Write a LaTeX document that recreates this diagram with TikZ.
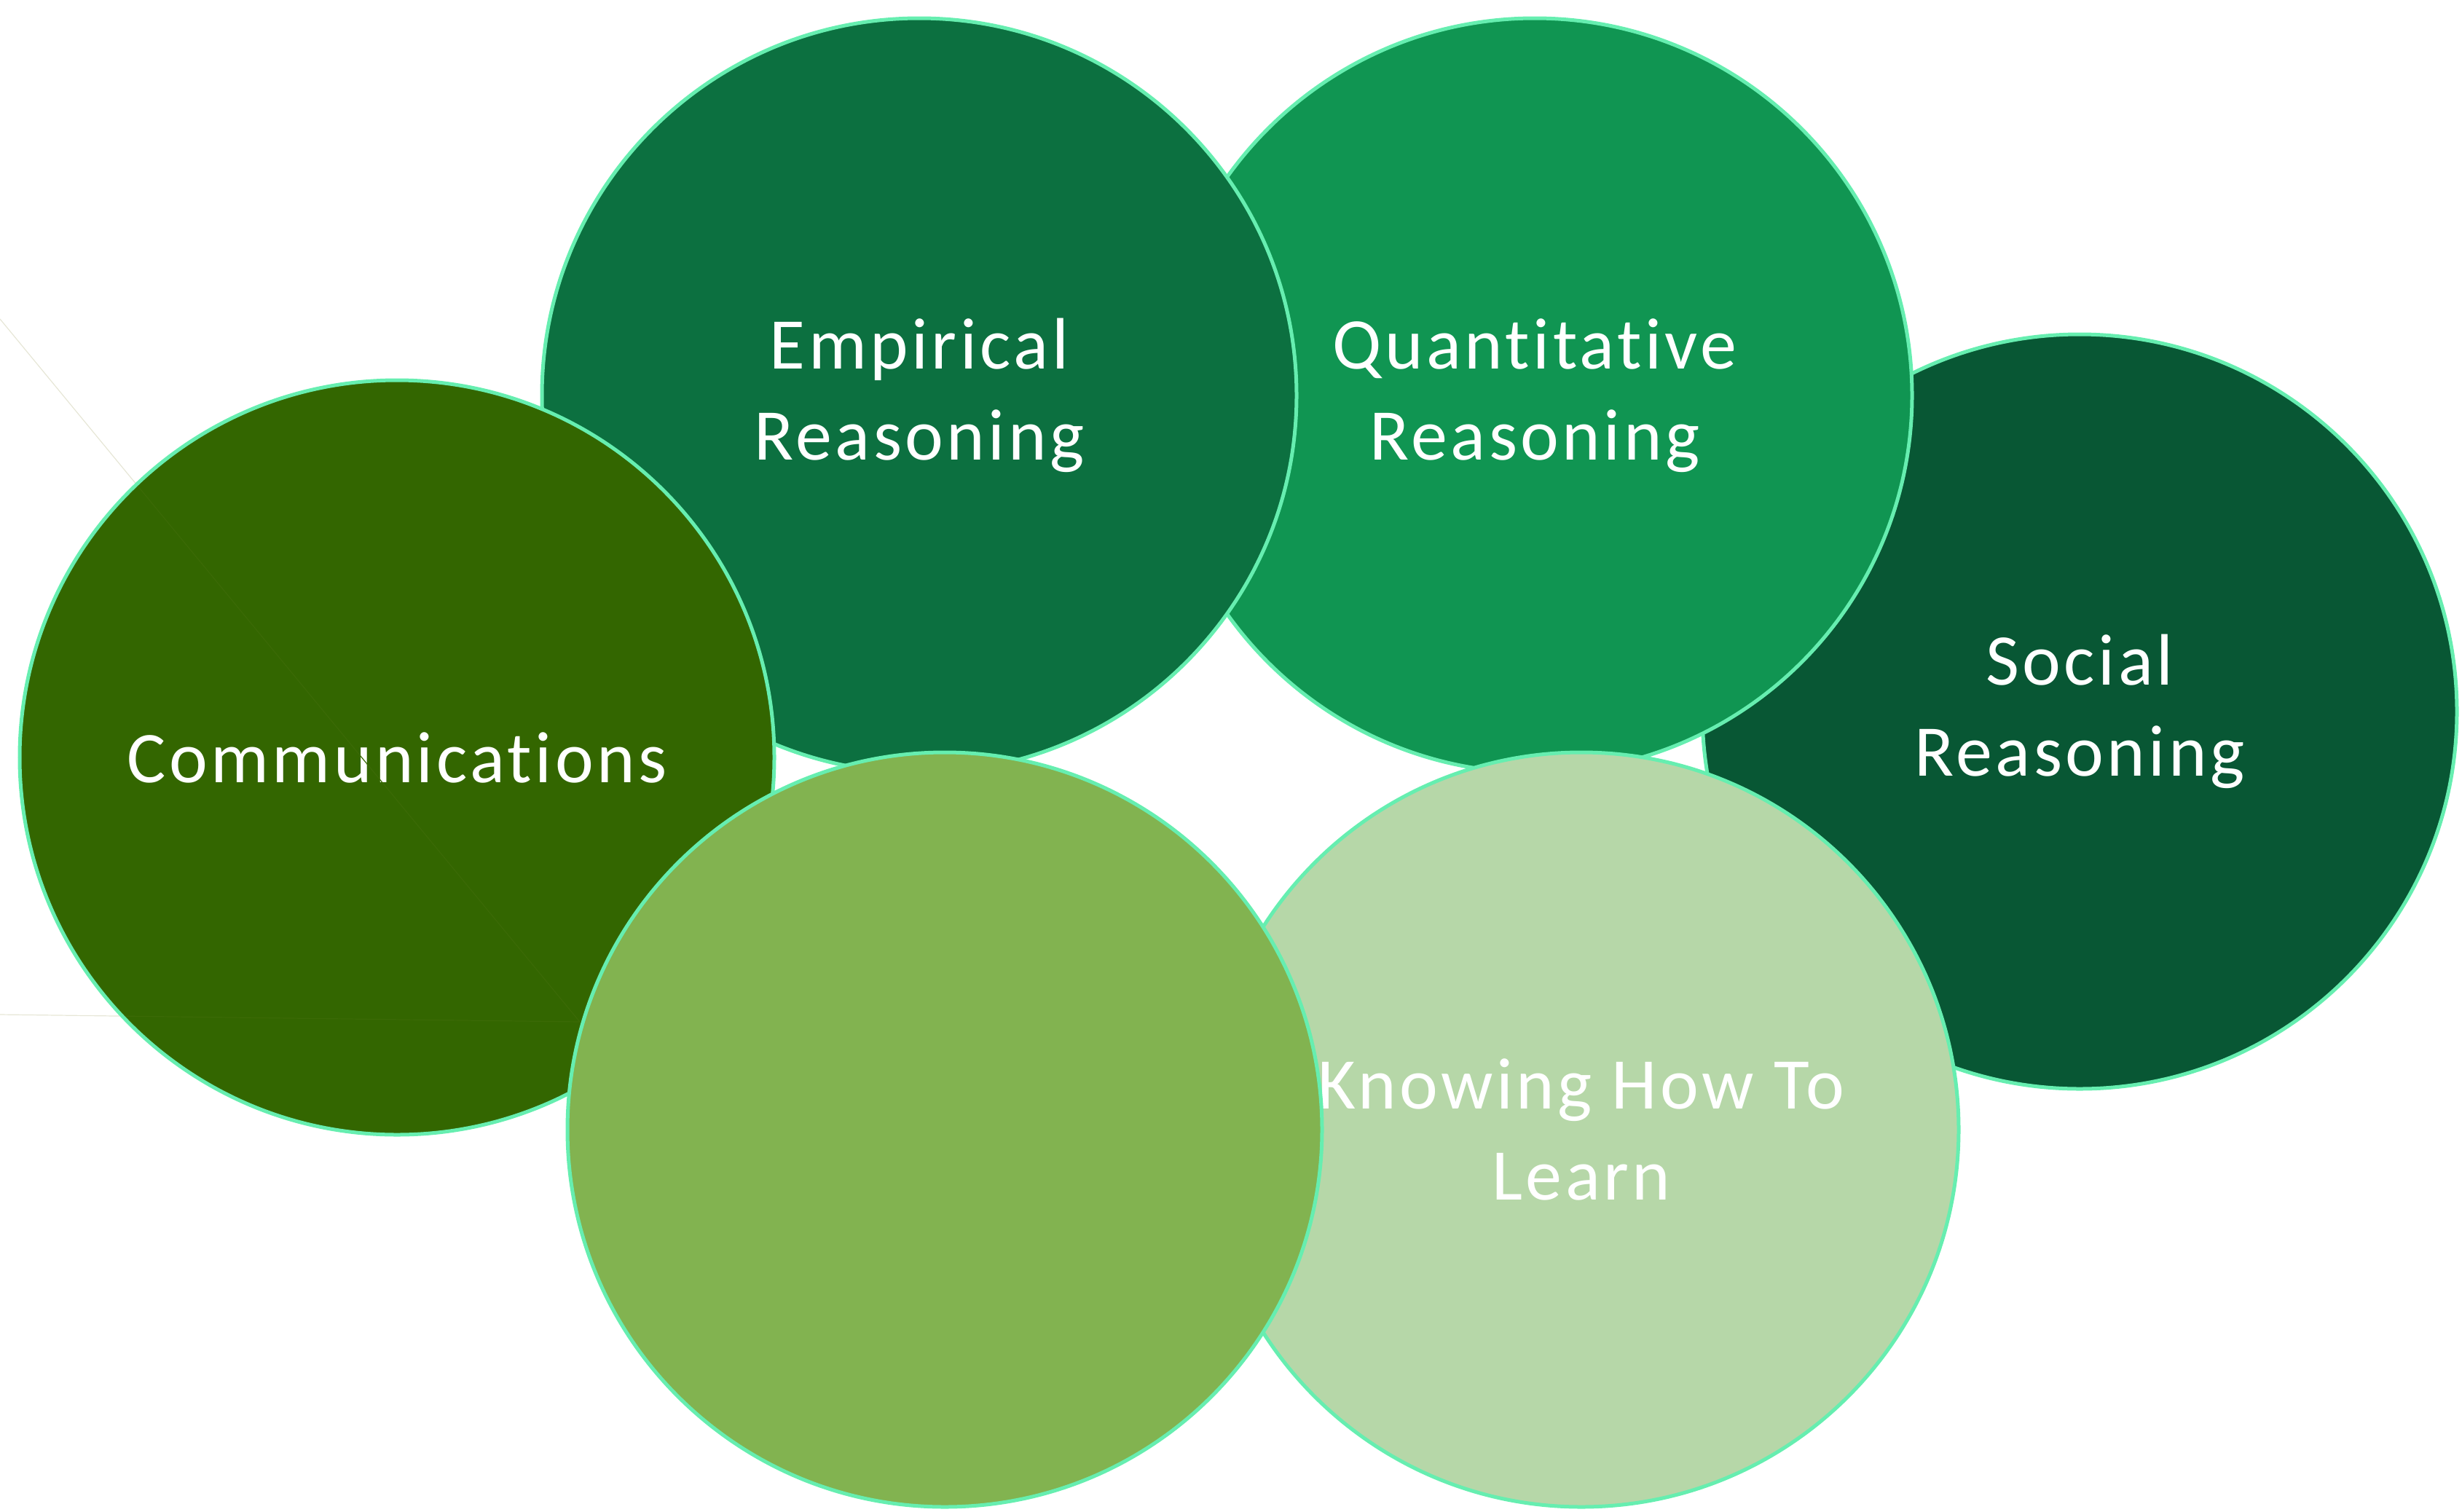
\documentclass[tikz,border=0pt]{standalone}
\usepackage{fontspec}
\setmainfont{Carlito}[LetterSpace=4.5, Ligatures=NoCommon]
\usepackage{xcolor}
\definecolor{mint}{HTML}{66EEB0}
\definecolor{empgreen}{HTML}{0C7040}
\definecolor{quantgreen}{HTML}{109552}
\definecolor{socgreen}{HTML}{085734}
\definecolor{commgreen}{HTML}{336600}
\definecolor{leafgreen}{HTML}{82B350}
\definecolor{palegreen}{HTML}{B6D7A8}
\definecolor{faintline}{HTML}{E6E6D6}
\definecolor{faintgreen}{HTML}{3B6A06}

\begin{document}
\begin{tikzpicture}
	\tikzset{bubble/.style = {shape=circle, draw=mint, line width=0.05cm,
			minimum size=10.36cm, inner sep=0pt, align=center, text=white,
			font=\fontsize{28.45}{35.6}\selectfont}}
	\tikzset{slice/.style = {line width=0.012cm}}
	\useasboundingbox (0,0) rectangle (33.8,-20.75);
    % slice corners
    \coordinate (s1) at (0,-4.38);
    \coordinate (s2) at (0,-13.93);
    \coordinate (tip) at (7.96,-14.03);
    % circles, back to front
    \node[bubble, fill=socgreen] (soc) at (28.55,-9.77) {Social\\Reasoning};
    \node[bubble, fill=quantgreen] (quant) at (21.07,-5.43) {Quantitative\\Reasoning};
    \node[bubble, fill=empgreen] (emp) at (12.62,-5.43) {Empirical\\Reasoning};
    \draw[slice, faintline] (s1) -- (tip) (s2) -- (tip);
    \node[bubble, fill=commgreen] (comm) at (5.45,-10.40) {Communications};
    \begin{scope}
      \clip (comm.center) circle (5.15cm);
      \draw[slice, faintgreen] (s1) -- (tip) (s2) -- (tip);
    \end{scope}
    \node[bubble, fill=palegreen] (learn) at (21.71,-15.51) {Knowing How To\\Learn};
    \node[bubble, fill=leafgreen] (blank) at (12.97,-15.51) {};
\end{tikzpicture}
\end{document}
